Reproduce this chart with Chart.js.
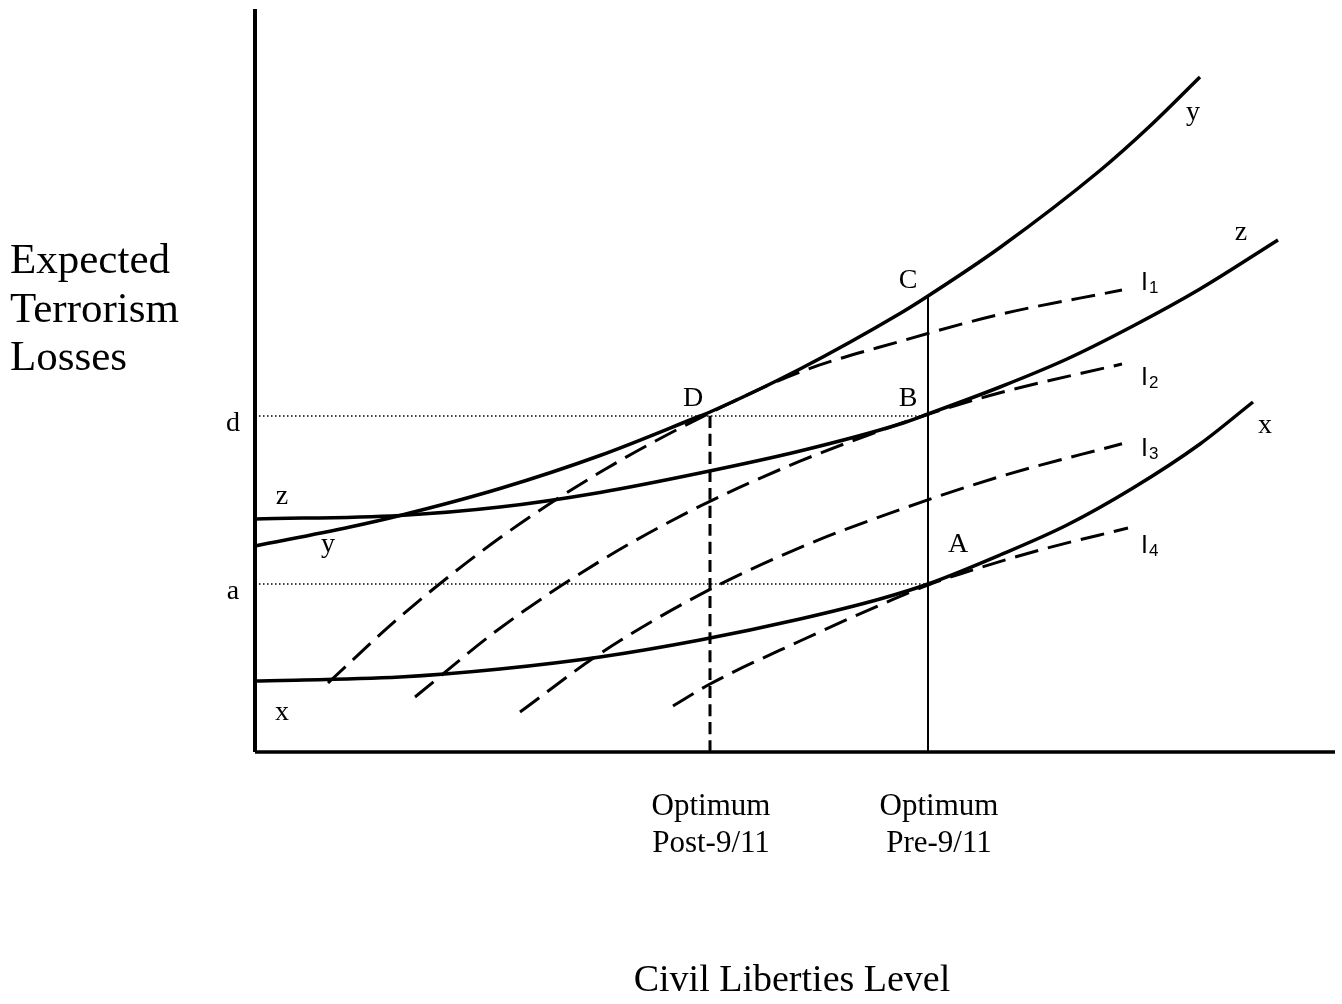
<!DOCTYPE html>
<html><head><meta charset="utf-8">
<script src="https://cdn.jsdelivr.net/npm/chart.js@4.4.1/dist/chart.umd.min.js"></script>
<style>html,body{margin:0;padding:0;background:#fff}#wrap{width:1342px;height:1004px;position:relative}</style>
</head><body><div id="wrap"><canvas id="c"></canvas></div>
<script>
// ---- data (x = civil liberties level, y = expected terrorism losses; arbitrary units) ----
const curveYx = [0, 95, 145, 245, 345, 445, 455, 545, 645, 673, 745, 845, 895, 945];
const curveYv = [206, 225, 236.5, 263.5, 296.5, 336, 340, 383, 438.5, 456, 504.5, 581.5, 626, 675];
const curveZx = [0, 145, 245, 345, 445, 545, 645, 673, 745, 812, 878, 945, 1023];
const curveZv = [233, 236.6, 245, 259.6, 279, 301, 328, 338, 365, 393, 426, 463, 512];
const curveXx = [0, 145, 245, 345, 445, 545, 625, 673, 745, 812, 878, 945, 998];
const curveXv = [71, 75, 83, 95, 112, 133, 153, 168, 197, 227, 264, 308, 350];
const indiff1x = [73, 145, 245, 345, 455, 545, 645, 745, 867];
const indiff1v = [69, 135.2, 214.2, 279.7, 339.1, 380, 410.6, 437.6, 462];
const indiff2x = [160, 245, 345, 445, 545, 645, 673, 745, 867];
const indiff2v = [55, 123.8, 190.8, 245.8, 290.8, 328.3, 337.7, 359.3, 388];
const indiff3x = [265, 345, 445, 545, 645, 745, 867];
const indiff3v = [40, 98.4, 157.4, 204.4, 242.4, 275.4, 308.3];
const indiff4x = [418, 455, 545, 625, 673, 705, 785, 873];
const indiff4v = [46, 68, 111, 147, 167, 178, 202, 224];
const optPost = 455, optPre = 673;        // optimum civil-liberties levels
const levelD = 338, levelC = 455;          // heights of D and C
const lossD = 336, lossA = 168;            // loss levels d and a
const xMax = 1080, yMax = 744;

const yTickValues = [lossD, lossA];
const yTickLabels = ['d', 'a'];
const xTickValues = [optPost, optPre];
const xTickLabels = [['Optimum', 'Post-9/11'], ['Optimum', 'Pre-9/11']];
const yTitle = ['Expected', 'Terrorism', 'Losses'];
const xTitle = 'Civil Liberties Level';
const pointText = ['D', 'B', 'C', 'A', 'y', 'z', 'x', 'z', 'y', 'x'];
const pointTextX = [438, 653, 653, 703, 938, 986, 1010, 27, 73, 27];
const pointTextY = [346, 346, 464, 200, 632, 512, 319, 248, 200, 32];
const indiffNames = ['1', '2', '3', '4'];
const indiffLabelX = [886, 886, 886, 886];
const indiffLabelY = [462, 367, 296, 199];

const pts = (xs, ys) => xs.map((x, i) => ({x: x, y: ys[i]}));
const solid = (data, w) => ({data, borderColor: '#000', borderWidth: w, pointRadius: 0, fill: false, cubicInterpolationMode: 'monotone', clip: false});
const dashed = (data, w, dash) => Object.assign(solid(data, w), {borderDash: dash});

const SERIF = '"Liberation Serif", "Times New Roman", serif';
const SANS = '"Liberation Sans", Arial, sans-serif';

const textPlugin = {
  id: 'texts',
  afterDraw(chart) {
    const ctx = chart.ctx, xs = chart.scales.x, ys = chart.scales.y;
    ctx.save();
    ctx.fillStyle = '#000';
    ctx.textBaseline = 'alphabetic';
    // y title
    ctx.font = '43px ' + SERIF;
    ctx.textAlign = 'left';
    yTitle.forEach((t, i) => ctx.fillText(t, 10, 273 + i * 48.5));
    // x title
    ctx.font = '38px ' + SERIF;
    ctx.textAlign = 'center';
    ctx.fillText(xTitle, 792, 991);
    // y ticks
    ctx.font = '28px ' + SERIF;
    yTickValues.forEach((v, i) => ctx.fillText(yTickLabels[i], 233, ys.getPixelForValue(v) + 15));
    // x ticks
    ctx.font = '31px ' + SERIF;
    const dx = [1, 11];
    xTickValues.forEach((v, i) => {
      const px = xs.getPixelForValue(v) + dx[i];
      xTickLabels[i].forEach((t, j) => ctx.fillText(t, px, 815 + j * 37));
    });
    // point labels
    ctx.font = '28px ' + SERIF;
    pointText.forEach((t, i) => ctx.fillText(t, xs.getPixelForValue(pointTextX[i]), ys.getPixelForValue(pointTextY[i])));
    // indifference labels
    ctx.textAlign = 'left';
    indiffNames.forEach((n, i) => {
      const px = xs.getPixelForValue(indiffLabelX[i]), py = ys.getPixelForValue(indiffLabelY[i]);
      ctx.font = '25px ' + SANS;
      ctx.fillText('I', px, py);
      ctx.font = '17px ' + SANS;
      ctx.fillText(n, px + 8, py + 3);
    });
    ctx.restore();
  }
};

new Chart(document.getElementById('c'), {
  type: 'line',
  data: {
    datasets: [
      solid(pts(curveYx, curveYv), 3.5),
      solid(pts(curveZx, curveZv), 3.5),
      solid(pts(curveXx, curveXv), 3.5),
      dashed(pts(indiff1x, indiff1v), 3, [24, 10]),
      dashed(pts(indiff2x, indiff2v), 3, [24, 10]),
      dashed(pts(indiff3x, indiff3v), 3, [24, 10]),
      dashed(pts(indiff4x, indiff4v), 3, [24, 10]),
      dashed([{x: optPost, y: 0}, {x: optPost, y: levelD}], 3, [12, 6]),
      solid([{x: optPre, y: 0}, {x: optPre, y: levelC}], 2),
      dashed([{x: 0, y: lossD}, {x: optPre, y: lossD}], 1.5, [1.5, 2.5]),
      dashed([{x: 0, y: lossA}, {x: optPre, y: lossA}], 1.5, [1.5, 2.5]),
      solid([{x: 0, y: 0}, {x: 0, y: yMax - 1}], 4),
      solid([{x: 0, y: 0}, {x: xMax, y: 0}], 3.5)
    ]
  },
  options: {
    responsive: true,
    maintainAspectRatio: false,
    animation: false,
    events: [],
    layout: {padding: {left: 255, right: 7, top: 8, bottom: 252}},
    scales: {
      x: {type: 'linear', min: 0, max: xMax, display: false},
      y: {type: 'linear', min: 0, max: yMax, display: false}
    },
    plugins: {legend: {display: false}, tooltip: {enabled: false}}
  },
  plugins: [textPlugin]
});
</script>
</body></html>
